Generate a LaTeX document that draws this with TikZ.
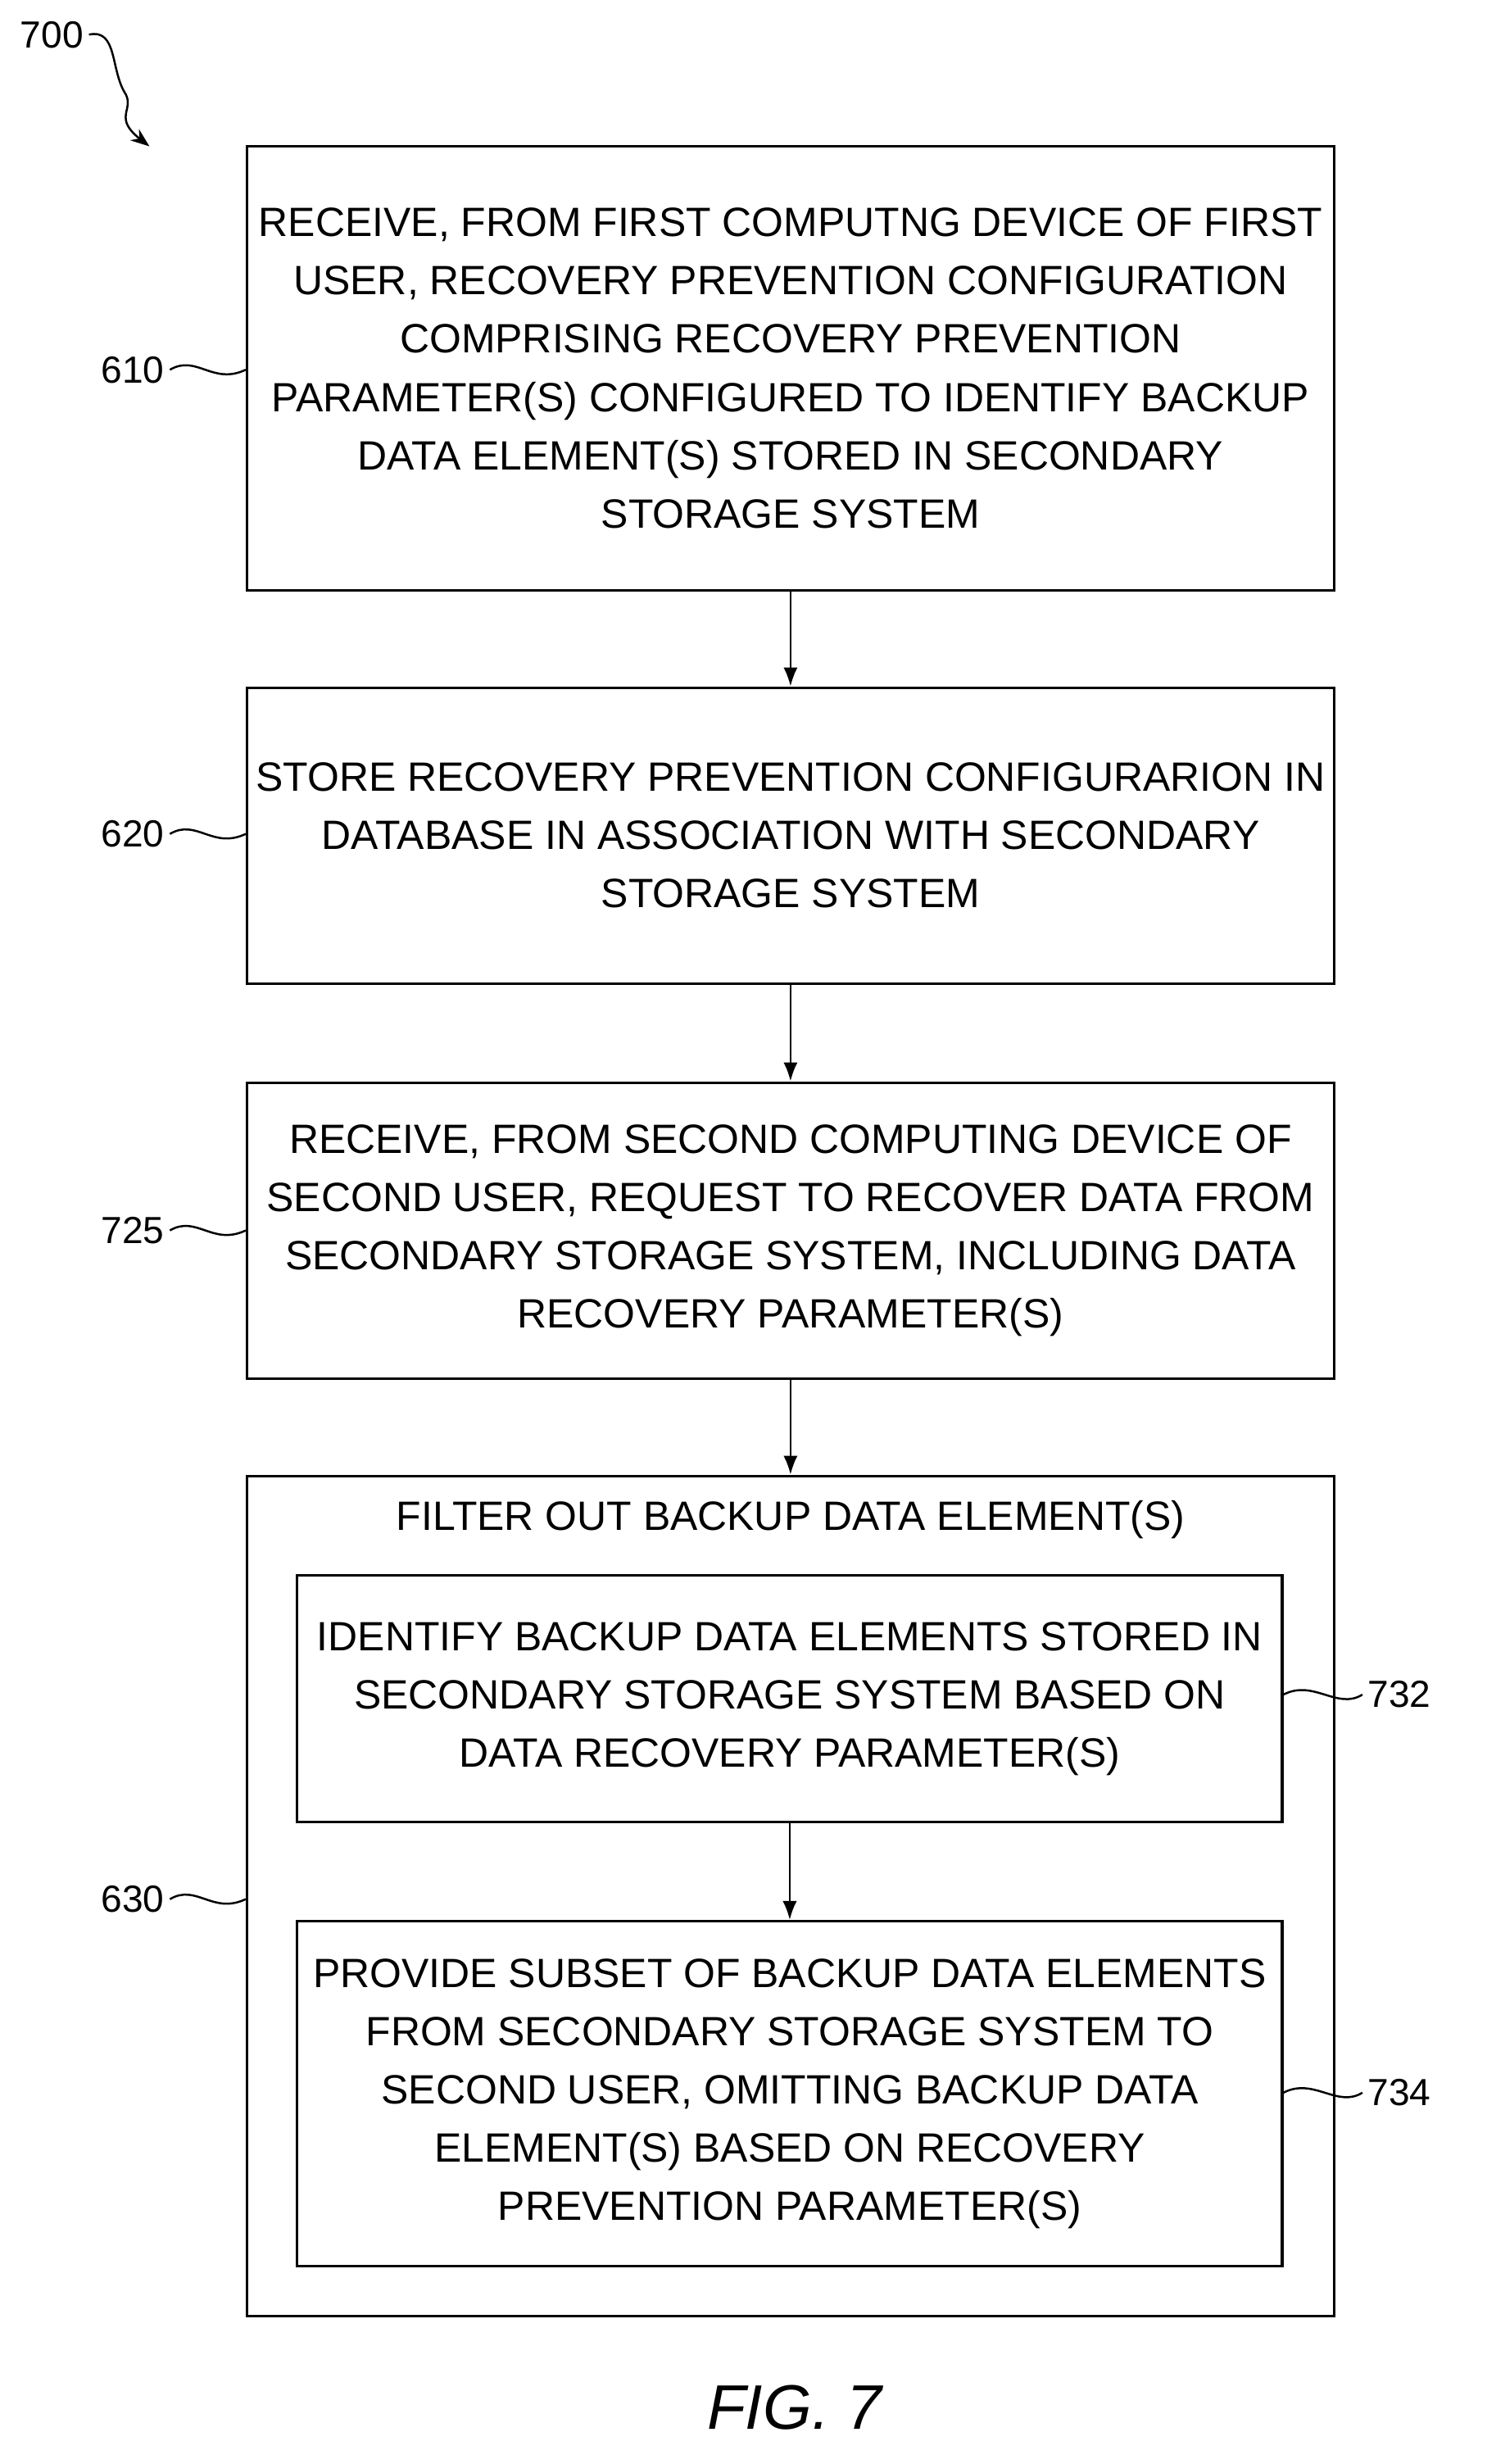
\documentclass[tikz,border=0pt]{standalone}
\usepackage{fontspec}
\setmainfont{Liberation Sans}
\usetikzlibrary{arrows.meta, positioning}
\tikzset{
  stepbox/.style={draw, line width=1.6pt, minimum width=691pt, align=center, font=\fontsize{26}{37}\selectfont, inner sep=0pt},
  subbox/.style={draw, line width=1.6pt, minimum width=626pt, align=center, font=\fontsize{26}{37}\selectfont, inner sep=0pt},
  flow/.style={-{Latex[length=12pt,width=9pt]}, line width=1.4pt},
  lbl/.style={font=\fontsize{24}{28}\selectfont},
  lead/.style={line width=1.3pt}
}
\begin{document}
\begin{tikzpicture}[x=1pt,y=-1pt]
    \useasboundingbox (0,0) rectangle (945,1566);

    % Main steps
    \node[stepbox, minimum height=282pt] (s610) at (502.5,234) {RECEIVE, FROM FIRST COMPUTNG DEVICE OF FIRST\\USER, RECOVERY PREVENTION CONFIGURATION\\COMPRISING RECOVERY PREVENTION\\PARAMETER(S) CONFIGURED TO IDENTIFY BACKUP\\DATA ELEMENT(S) STORED IN SECONDARY\\STORAGE SYSTEM};
    \node[stepbox, minimum height=188pt] (s620) at (502.5,531) {STORE RECOVERY PREVENTION CONFIGURARION IN\\DATABASE IN ASSOCIATION WITH SECONDARY\\STORAGE SYSTEM};
    \node[stepbox, minimum height=188pt] (s725) at (502.5,782) {RECEIVE, FROM SECOND COMPUTING DEVICE OF\\SECOND USER, REQUEST TO RECOVER DATA FROM\\SECONDARY STORAGE SYSTEM, INCLUDING DATA\\RECOVERY PARAMETER(S)};
    \node[stepbox, minimum height=534pt] (s630) at (502.5,1205) {};
    \node[font=\fontsize{26}{37}\selectfont] (t630) at (502.5,966) {FILTER OUT BACKUP DATA ELEMENT(S)};

    % Sub steps
    \node[subbox, minimum height=157pt] (s732) at (502,1079.5) {IDENTIFY BACKUP DATA ELEMENTS STORED IN\\SECONDARY STORAGE SYSTEM BASED ON\\DATA RECOVERY PARAMETER(S)};
    \node[subbox, minimum height=219pt] (s734) at (502,1330.5) {PROVIDE SUBSET OF BACKUP DATA ELEMENTS\\FROM SECONDARY STORAGE SYSTEM TO\\SECOND USER, OMITTING BACKUP DATA\\ELEMENT(S) BASED ON RECOVERY\\PREVENTION PARAMETER(S)};

    % Arrows
    \draw[flow] (s610) -- (s620);
    \draw[flow] (s620) -- (s725);
    \draw[flow] (s725) -- (s630);
    \draw[flow] (s732) -- (s734);

    % Reference labels
    \node[lbl] (n700) at (33,22) {700};
    \coordinate (c700) at (95,93);
    \draw[lead, -{Stealth[length=12pt,width=9pt]}] (n700.east) .. controls (75,18) and (70,45) .. (80,60) .. controls (85,70) and (72,75) .. (c700);

    \node[lbl, anchor=east] (n610) at (108,235) {610};
    \draw[lead] (n610.east) .. controls (125,225) and (135,245) .. (s610.west |- n610);
    \node[lbl, anchor=east] (n620) at (108,530) {620};
    \draw[lead] (n620.east) .. controls (125,520) and (135,540) .. (s620.west |- n620);
    \node[lbl, anchor=east] (n725) at (108,782) {725};
    \draw[lead] (n725.east) .. controls (125,772) and (135,792) .. (s725.west |- n725);
    \node[lbl, anchor=east] (n630) at (108,1207) {630};
    \draw[lead] (n630.east) .. controls (125,1197) and (135,1217) .. (s630.west |- n630);

    \node[lbl, anchor=west] (n732) at (866,1077) {732};
    \draw[lead] (s732.east |- n732) .. controls (835,1067) and (850,1087) .. (n732.west);
    \node[lbl, anchor=west] (n734) at (866,1330) {734};
    \draw[lead] (s734.east |- n734) .. controls (835,1320) and (850,1340) .. (n734.west);

    \node[font=\itshape\fontsize{40}{44}\selectfont] (fig) at (505,1530) {FIG. 7};
\end{tikzpicture}
\end{document}
